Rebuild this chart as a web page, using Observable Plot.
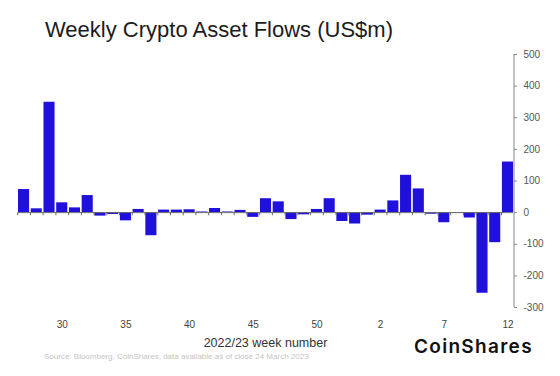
<!DOCTYPE html>
<html>
<head>
<meta charset="utf-8">
<script src="https://cdn.jsdelivr.net/npm/d3@7"></script>
<script src="https://cdn.jsdelivr.net/npm/@observablehq/plot@0.6"></script>
<style>
  html, body { margin: 0; padding: 0; background: #fff; }
  #wrap { position: relative; width: 560px; height: 376px; overflow: hidden; background: #fff; font-family: "Liberation Sans", Arial, sans-serif; }
  #title { position: absolute; left: 45px; top: 19px; font-size: 22px; line-height: 22px; color: #1c1c1c; white-space: nowrap; }
  #chart { position: absolute; left: 0; top: 48px; }
  #xlabel { position: absolute; left: 0; width: 531px; top: 336px; text-align: center; font-size: 12.5px; line-height: 14px; color: #333; }
  #source { position: absolute; left: 44px; top: 352px; font-size: 8px; line-height: 10px; color: #c4c4c4; white-space: nowrap; }
  #logo { position: absolute; left: 414px; top: 337px; font-family: "Inter", sans-serif; font-weight: 600; font-size: 19px; line-height: 19px; letter-spacing: 1.3px; color: #111; white-space: nowrap; }
</style>
</head>
<body>
<div id="wrap">
  <div id="title">Weekly Crypto Asset Flows (US$m)</div>
  <div id="chart"></div>
  <div id="xlabel">2022/23 week number</div>
  <div id="source">Source: Bloomberg, CoinShares, data available as of close 24 March 2023</div>
  <div id="logo">CoinShares</div>
</div>
<script>
// Week numbers (2022 weeks 27–53, then 2023 weeks 1–12)
const weeks = ["27","28","29","30","31","32","33","34","35","36","37","38","39","40","41","42","43","44","45","46","47","48","49","50","51","52","53",
               "1","2","3","4","5","6","7","8","9","10","11","12"];
// Weekly flows, US$m
const flows = [73, 12, 349, 31, 15, 54, -11, -6, -26, 10, -73, 8, 8, 9, 2, 13, 2, 7, -15, 44, 34, -22, -7, 10, 44, -28, -36,
               -8, 8, 37, 118, 75, -5, -32, -1, -17, -255, -95, 160];
// Axis tick labels
const xTickLabels = ["30","35","40","45","50","2","7","12"];
const yTickValues = [-300, -200, -100, 0, 100, 200, 300, 400, 500];

const data = weeks.map((w, i) => ({week: w, flow: flows[i]}));

const W = 560, H = 284, mL = 18, mR = 47, mT = 6, mB = 25;
const padInner = 0.13;
const step = (W - mL - mR) / (weeks.length - padInner);
const bandwidth = step * (1 - padInner);

const chart = Plot.plot({
  width: W,
  height: H,
  marginLeft: mL,
  marginRight: mR,
  marginTop: mT,
  marginBottom: mB,
  style: {fontFamily: "'Liberation Sans', Arial, sans-serif", fontSize: "10px", background: "#fff", color: "#555"},
  x: {domain: weeks, paddingInner: padInner, paddingOuter: 0, round: false},
  y: {domain: [-300, 500]},
  marks: [
    Plot.barY(data, {x: "week", y: "flow", fill: "#2010dc"}),
    Plot.ruleY([0], {stroke: "#6a6a6a", strokeWidth: 1}),
    Plot.ruleX(data, {x: "week", y1: 0, y2: -10, dx: -step / 2, stroke: "#6a6a6a"}),
    Plot.ruleX([weeks[weeks.length - 1]], {dx: bandwidth / 2 + 0.5, stroke: "#888"}),
    Plot.axisY({anchor: "right", ticks: yTickValues, tickFormat: d => String(d), tickSize: 3, tickPadding: 7,
                stroke: "#888", fill: "#555", fontSize: 10, label: null}),
    Plot.axisX({ticks: xTickLabels, tickSize: 0, tickPadding: 13, fill: "#444", fontSize: 10, label: null})
  ]
});
document.getElementById("chart").appendChild(chart);
</script>
</body>
</html>
